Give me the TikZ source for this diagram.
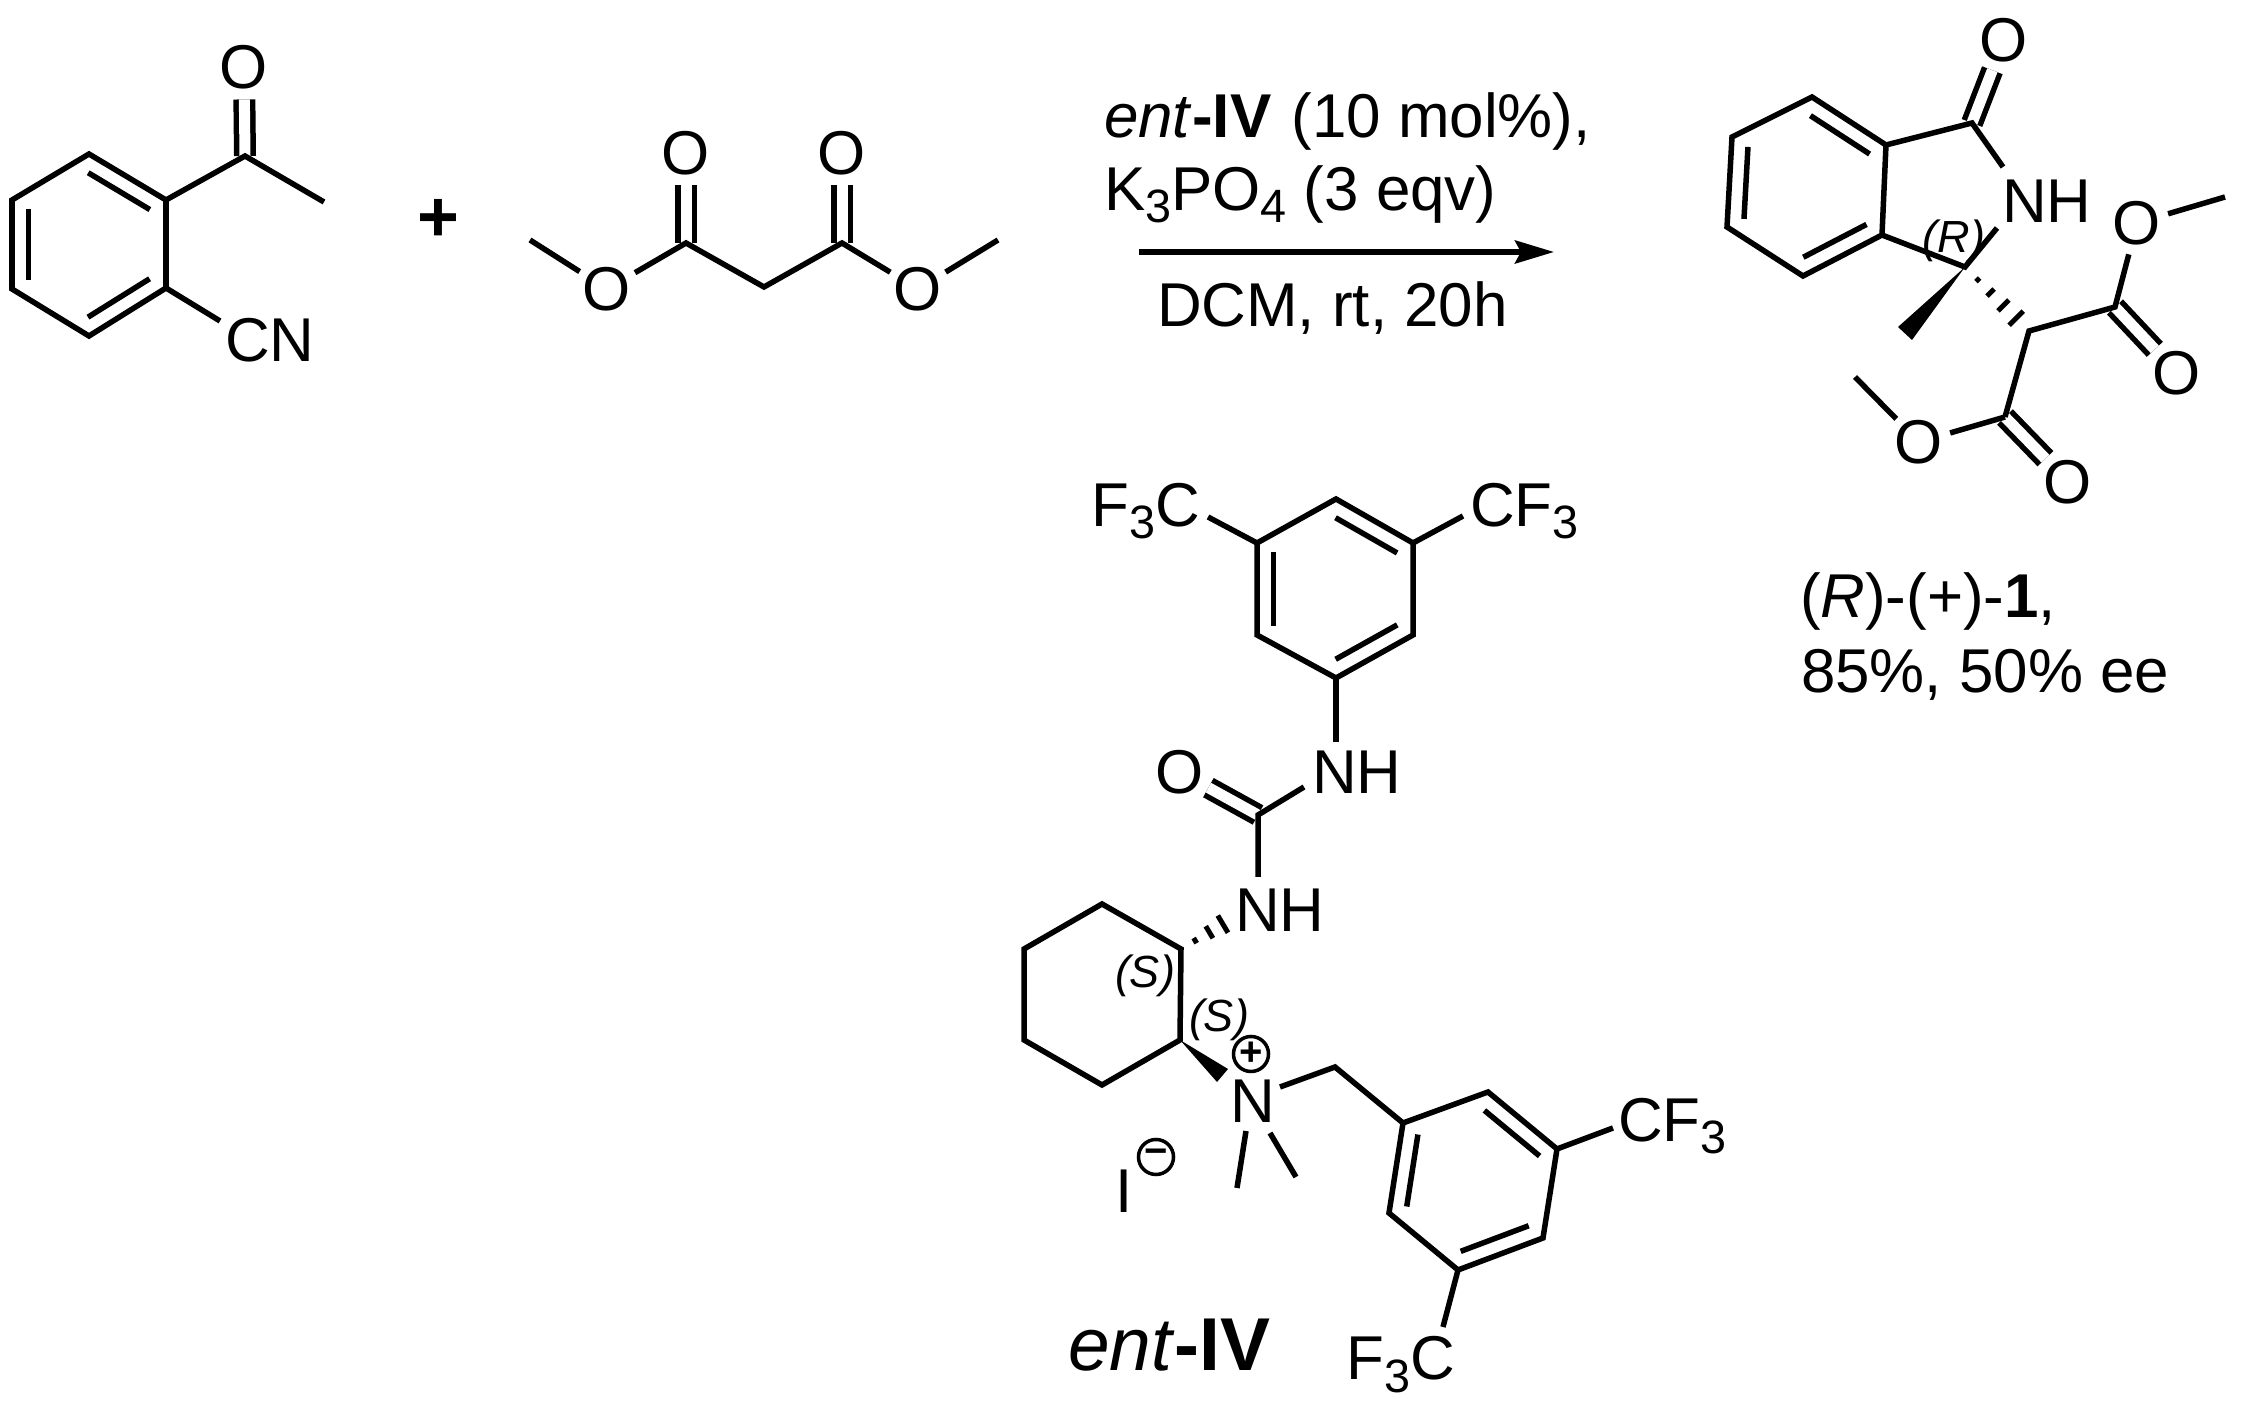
\documentclass[tikz,border=0pt]{standalone}
\usepackage{fontspec}
\setmainfont{Liberation Sans}
\usetikzlibrary{arrows.meta,calc}

\newcommand{\lowsub}[1]{\raisebox{-.12cm}{\fontsize{13.3pt}{13.3pt}\selectfont #1}}
\newcommand{\inbond}[2]{\draw [bond] ($(#1)!.1!(#2)!.165cm!-90:(#2)$) -- ($(#2)!.1!(#1)!.165cm!90:(#1)$);}

\tikzset{
  bond/.style={line width=.055cm},
  dbond/.style={line width=.055cm, double, double distance=.11cm},
  hash/.style={line width=.05cm},
  atom/.style={circle, inner sep=0pt, outer sep=0pt, font=\fontsize{17.6pt}{17.6pt}\selectfont},
  lbl/.style={inner sep=0pt, outer sep=0pt, font=\fontsize{17.6pt}{17.6pt}\selectfont},
  stereo/.style={inner sep=0pt, font=\fontsize{12.8pt}{12.8pt}\selectfont\itshape},
  charge/.style={circle, draw, line width=.035cm, minimum size=.35cm, inner sep=0pt, font=\fontsize{11.4pt}{11.4pt}\selectfont\bfseries}
}

\begin{document}
\begin{tikzpicture}[x=.01cm, y=-.01cm]
\useasboundingbox (0,0) rectangle (2241,1407);

% ketone
\coordinate (a1) at (89,154);
\coordinate (a2) at (166,200);
\coordinate (a3) at (166,288);
\coordinate (a4) at (89,336);
\coordinate (a5) at (12,289);
\coordinate (a6) at (12,200);
\coordinate (c1) at (245,156);
\coordinate (me1) at (324,202);
\coordinate (cn1) at (220,321);
\node [atom] (o1) at (244,67) {O};
\node [lbl, anchor=base west] (cn) at (225,362) {CN};
\draw [dbond] (c1) -- (o1);
\draw [bond] (a1) -- (a2) -- (a3) -- (a4) -- (a5) -- (a6) -- cycle;
\draw [bond] (a2) -- (c1) -- (me1);
\draw [bond] (a3) -- (cn1);
\inbond{a1}{a2} \inbond{a3}{a4} \inbond{a5}{a6}

\node [lbl, font=\fontsize{20.4pt}{20.4pt}\selectfont\bfseries] (plus) at (438,220) {+};

% malonate
\coordinate (m1) at (530,240);
\coordinate (c2) at (686,243);
\coordinate (c3) at (764,287);
\coordinate (c4) at (842,243);
\coordinate (m2) at (998,240);
\node [atom] (o2) at (607,289) {O};
\node [atom] (o3) at (686,153) {O};
\node [atom] (o4) at (842,153) {O};
\node [atom] (o5) at (918,289) {O};
\draw [dbond] (c2) -- (o3);
\draw [dbond] (c4) -- (o4);
\draw [bond] (m1) -- (o2);
\draw [bond] (o2) -- (c2) -- (c3) -- (c4) -- (o5);
\draw [bond] (o5) -- (m2);

% conditions
\node [lbl, anchor=base west] (cond1) at (1104,138) {\textit{ent}\textbf{-IV}\ \hspace{.03cm}(10 mol\%),};
\node [lbl, anchor=base west] (cond2) at (1104,211) {K\lowsub{3}PO\lowsub{4} (3 eqv)};
\node [lbl, anchor=base west] (cond3) at (1157,327) {DCM, rt, 20h};
\coordinate (ar1) at (1139,252);
\coordinate (ar2) at (1554,252);
\draw [line width=.055cm, -{Stealth[length=.39cm, width=.23cm, inset=.06cm]}] (ar1) -- (ar2);

% product
\coordinate (b1) at (1812,97);
\coordinate (b2) at (1886,145);
\coordinate (b3) at (1882,235);
\coordinate (b4) at (1803,276);
\coordinate (b5) at (1727,227);
\coordinate (b6) at (1732,137);
\coordinate (d1) at (1972,123);
\coordinate (n1) at (2003,167);
\coordinate (n2) at (1997,228);
\coordinate (q1) at (1965,267);
\coordinate (w1) at (1898,327);
\coordinate (w2) at (1912,340);
\coordinate (e1) at (2029,331);
\coordinate (e2) at (2115,307);
\coordinate (e3) at (2005,417);
\coordinate (me2) at (2225,197);
\coordinate (me3) at (1855,377);
\node [atom] (o6) at (2004,40) {O};
\node [atom] (o7) at (2177,373) {O};
\node [atom] (o8) at (2137,223) {O};
\node [atom] (o9) at (2068,482) {O};
\node [atom] (o10) at (1919,442) {O};
\node [lbl, anchor=base west] (nh1) at (2002,223) {NH};
\draw [dbond] (d1) -- (o6);
\draw [dbond] (e2) -- (o7);
\draw [dbond] (e3) -- (o9);
\draw [bond] (b1) -- (b2) -- (b3) -- (b4) -- (b5) -- (b6) -- cycle;
\draw [bond] (b2) -- (d1) -- (n1);
\draw [bond] (b3) -- (q1) -- (n2);
\fill (q1) -- (w1) -- (w2) -- cycle;
\foreach \t/\w in {.2/.025, .4/.05, .6/.077, .8/.1}
  \draw [hash] ($(q1)!\t!(e1)!\w cm!90:(e1)$) -- ($(q1)!\t!(e1)!\w cm!-90:(e1)$);
\draw [bond] (e3) -- (e1) -- (e2) -- (o8);
\draw [bond] (o8) -- (me2);
\draw [bond] (e3) -- (o10);
\draw [bond] (o10) -- (me3);
\inbond{b1}{b2} \inbond{b3}{b4} \inbond{b5}{b6}
\node [stereo] (r1lbl) at (1954,241) {(R)};
\node [lbl, anchor=base west] (yield1) at (1800,618) {(\textit{R})-(+)-\textbf{1},};
\node [lbl, anchor=base west] (yield2) at (1801,693) {85\%, 50\% ee};

% catalyst
\coordinate (f1) at (1336,499);
\coordinate (f2) at (1413,543);
\coordinate (f3) at (1413,635);
\coordinate (f4) at (1336,678);
\coordinate (f5) at (1257,635);
\coordinate (f6) at (1257,543);
\coordinate (k1) at (1208,517);
\coordinate (k2) at (1463,516);
\coordinate (n3) at (1336,742);
\coordinate (n4) at (1304,787);
\coordinate (n5) at (1258,877);
\coordinate (u1) at (1258,815);
\coordinate (g1) at (1102,904);
\coordinate (g2) at (1181,949);
\coordinate (g3) at (1180,1040);
\coordinate (g4) at (1102,1085);
\coordinate (g5) at (1024,1040);
\coordinate (g6) at (1024,949);
\coordinate (h1) at (1240,914);
\coordinate (w3) at (1228,1069);
\coordinate (w4) at (1217,1082);
\coordinate (n6) at (1280,1087);
\coordinate (n7) at (1246,1131);
\coordinate (n8) at (1270,1133);
\coordinate (me4) at (1237,1188);
\coordinate (me5) at (1296,1177);
\coordinate (j1) at (1335,1067);
\coordinate (r1) at (1403,1123);
\coordinate (r2) at (1488,1092);
\coordinate (r3) at (1557,1149);
\coordinate (r4) at (1543,1238);
\coordinate (r5) at (1458,1270);
\coordinate (r6) at (1389,1213);
\coordinate (k3) at (1613,1128);
\coordinate (k4) at (1443,1327);
\node [lbl, anchor=base east] (cf1) at (1200,527) {F\lowsub{3}C};
\node [lbl, anchor=base west] (cf2) at (1470,527) {CF\lowsub{3}};
\node [lbl, anchor=base west] (nh2) at (1312,794) {NH};
\node [atom] (o11) at (1180,772) {O};
\node [lbl, anchor=base west] (nh3) at (1235,932) {NH};
\node [lbl, anchor=base west] (n9) at (1230,1123) {N};
\node [charge] (pos) at (1251,1054) {+};
\node [lbl, anchor=base] (iod) at (1124,1213) {I};
\node [charge] (neg) at (1156,1157) {−};
\node [lbl, anchor=base west] (cf3) at (1618,1142) {CF\lowsub{3}};
\node [lbl, anchor=base east] (cf4) at (1455,1380) {F\lowsub{3}C};
\node [stereo] (s1lbl) at (1145,976) {(S)};
\node [stereo] (s2lbl) at (1219,1020) {(S)};
\node [lbl, anchor=base west, font=\fontsize{21.3pt}{21.3pt}\selectfont] (cat) at (1068,1371) {\textit{ent}\textbf{-IV}};
\draw [dbond] (u1) -- (o11);
\draw [bond] (f1) -- (f2) -- (f3) -- (f4) -- (f5) -- (f6) -- cycle;
\draw [bond] (f6) -- (k1);
\draw [bond] (f2) -- (k2);
\draw [bond] (f4) -- (n3);
\draw [bond] (n4) -- (u1) -- (n5);
\draw [bond] (g1) -- (g2) -- (g3) -- (g4) -- (g5) -- (g6) -- cycle;
\foreach \t/\w in {.24/.03, .48/.07, .71/.1}
  \draw [hash] ($(g2)!\t!(h1)!\w cm!90:(h1)$) -- ($(g2)!\t!(h1)!\w cm!-90:(h1)$);
\fill (g3) -- (w3) -- (w4) -- cycle;
\draw [bond] (n6) -- (j1) -- (r1);
\draw [bond] (n7) -- (me4);
\draw [bond] (n8) -- (me5);
\draw [bond] (r1) -- (r2) -- (r3) -- (r4) -- (r5) -- (r6) -- cycle;
\draw [bond] (r3) -- (k3);
\draw [bond] (r5) -- (k4);
\inbond{f1}{f2} \inbond{f3}{f4} \inbond{f5}{f6}
\inbond{r2}{r3} \inbond{r4}{r5} \inbond{r6}{r1}

\end{tikzpicture}
\end{document}
